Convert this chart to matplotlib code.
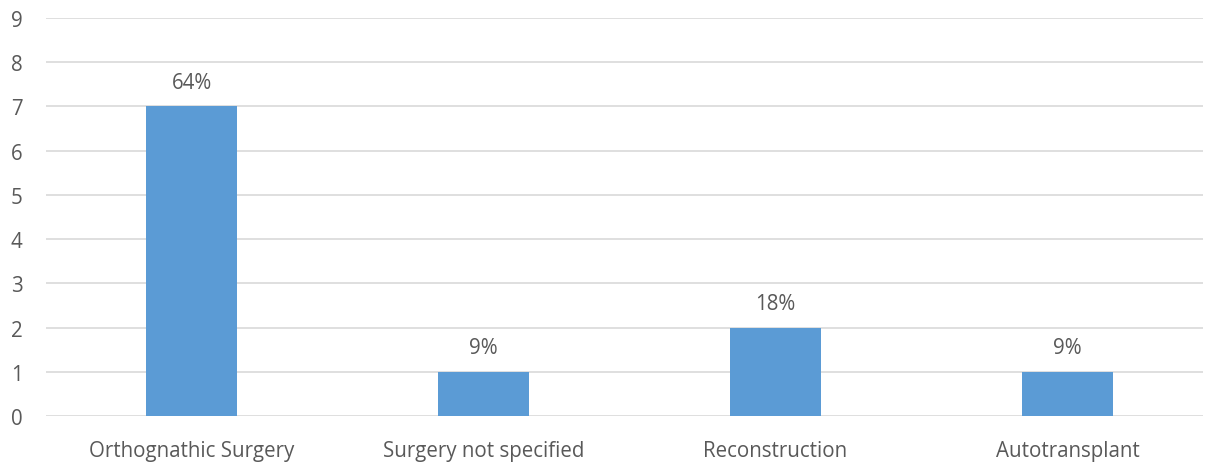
import matplotlib
matplotlib.use("Agg")
from matplotlib import pyplot as plt

categories = ["Orthognathic Surgery", "Surgery not specified", "Reconstruction", "Autotransplant"]
counts = [7, 1, 2, 1]
percent_labels = ["64%", "9%", "18%", "9%"]

plt.rcParams['font.family'] = ['Open Sans', 'DejaVu Sans']
text_color = '#595959'

fig = plt.figure(figsize=(12.08, 4.64), dpi=100)
ax = fig.add_axes([45.5 / 1208, 0.1013, (1203 - 45.5) / 1208, 0.8577])

x = list(range(len(categories)))
bars = ax.bar(x, counts, width=0.312, color='#5b9bd5', zorder=3)

# percentage labels above bars
for rect, lab in zip(bars, percent_labels):
    ax.annotate(lab, (rect.get_x() + rect.get_width() / 2, rect.get_height()),
                xytext=(0, 17.5), textcoords='offset points', ha='center', va='center',
                fontsize=14.8, color=text_color)

# plot area is cut a little short on the right, like the original
ax.set_xlim(-0.5, len(categories) - 0.536)
ax.set_ylim(0, 9)
ax.set_yticks(range(0, 10))
ax.set_xticks(x)
ax.set_xticklabels(categories)
ax.yaxis.grid(True, color='#d9d9d9', linewidth=1.2, zorder=0)
ax.tick_params(axis='both', length=0, labelsize=14.8, labelcolor=text_color)
ax.tick_params(axis='x', pad=17.5)
ax.tick_params(axis='y', pad=25)
for lab in ax.get_yticklabels():
    lab.set_horizontalalignment('left')
for s in ax.spines.values():
    s.set_visible(False)

fig.savefig('out.png', dpi=100)
